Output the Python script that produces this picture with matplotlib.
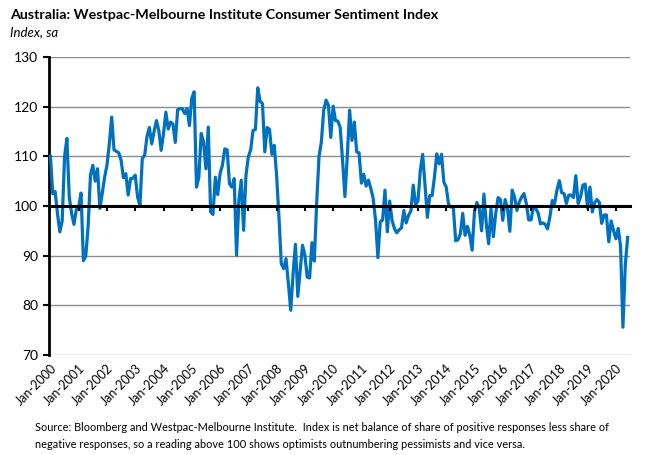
import matplotlib
matplotlib.use('Agg')
import matplotlib.pyplot as plt
import numpy as np

plt.rcParams['font.family'] = ['Lato', 'DejaVu Sans']

# monthly index readings, Jan..Dec of each year
idx_2000 = [110.0, 102.5, 102.9, 98.5, 94.8, 97.0, 109.9, 113.6, 101.8, 98.5, 96.3, 99.3]
idx_2001 = [99.8, 102.6, 89.0, 89.9, 95.8, 106.2, 108.2, 105.0, 107.5, 99.5, 102.5, 105.8]
idx_2002 = [108.2, 112.5, 117.9, 111.3, 111.0, 110.7, 109.2, 105.7, 106.5, 102.2, 105.5, 105.6]
idx_2003 = [106.2, 101.8, 100.1, 109.6, 110.2, 114.0, 115.8, 112.5, 115.0, 117.2, 115.2, 111.2]
idx_2004 = [114.5, 118.9, 115.5, 116.9, 116.5, 112.8, 119.4, 119.6, 119.6, 118.6, 119.6, 116.2]
idx_2005 = [121.7, 123.0, 103.8, 105.8, 114.6, 112.9, 107.5, 115.9, 98.8, 98.3, 105.8, 102.3]
idx_2006 = [106.5, 108.2, 111.5, 111.3, 104.5, 103.8, 105.5, 90.1, 101.1, 105.2, 95.1, 106.2]
idx_2007 = [109.9, 111.3, 115.2, 115.4, 123.8, 121.1, 120.6, 110.9, 115.8, 115.4, 110.4, 112.2]
idx_2008 = [106.2, 97.8, 88.4, 87.4, 89.4, 84.4, 79.0, 86.4, 92.3, 81.8, 87.0, 92.1]
idx_2009 = [90.1, 85.7, 85.5, 92.6, 88.9, 100.5, 109.9, 112.9, 119.3, 121.3, 120.3, 113.8]
idx_2010 = [120.1, 117.2, 117.1, 115.8, 109.2, 101.9, 110.0, 119.3, 113.2, 116.9, 110.9, 110.7]
idx_2011 = [104.6, 106.4, 104.0, 105.2, 103.5, 101.5, 97.1, 89.6, 96.8, 97.2, 103.2, 94.8]
idx_2012 = [101.0, 97.1, 95.5, 94.6, 95.2, 95.6, 99.1, 96.6, 98.1, 99.0, 104.2, 100.3]
idx_2013 = [101.0, 107.2, 110.4, 104.2, 97.7, 102.1, 102.1, 105.8, 110.5, 108.5, 110.4, 104.8]
idx_2014 = [103.8, 100.3, 99.8, 99.8, 93.0, 93.2, 94.4, 98.5, 94.1, 95.9, 94.1, 91.1]
idx_2015 = [99.0, 100.7, 99.5, 95.0, 102.4, 96.4, 92.4, 99.5, 93.8, 98.5, 101.7, 101.3]
idx_2016 = [97.1, 101.3, 99.5, 94.9, 103.2, 101.8, 99.1, 100.8, 101.8, 102.5, 100.5, 97.2]
idx_2017 = [97.2, 99.9, 99.5, 98.6, 96.4, 96.6, 96.3, 95.4, 97.8, 101.1, 100.5, 103.2]
idx_2018 = [105.1, 102.7, 102.5, 100.5, 102.2, 102.2, 101.7, 106.1, 100.5, 101.8, 104.2, 104.4]
idx_2019 = [99.6, 103.8, 98.8, 100.7, 101.3, 100.7, 96.5, 98.2, 98.2, 92.8, 97.0, 95.1]
idx_2020 = [93.4, 95.5, 91.9, 75.6, 88.1, 93.7]

years = list(range(2000, 2021))
tick_labels = ['Jan-%d' % y for y in years]

title = 'Australia: Westpac-Melbourne Institute Consumer Sentiment Index'
subtitle = 'Index, sa'
source = ('Source: Bloomberg and Westpac-Melbourne Institute.  Index is net balance of share of positive responses less share of\n'
          'negative responses, so a reading above 100 shows optimists outnumbering pessimists and vice versa.')

values = (idx_2000 + idx_2001 + idx_2002 + idx_2003 + idx_2004 + idx_2005 + idx_2006
          + idx_2007 + idx_2008 + idx_2009 + idx_2010 + idx_2011 + idx_2012 + idx_2013
          + idx_2014 + idx_2015 + idx_2016 + idx_2017 + idx_2018 + idx_2019 + idx_2020)
months = np.arange(len(values))
tick_pos = [12 * i for i in range(len(years))]

W, H = 650, 455
fig = plt.figure(figsize=(6.5, 4.55), dpi=100)
ax = fig.add_axes([49 / W, 1 - 355 / H, (630 - 49) / W, (355 - 57) / H])

ax.plot(months, values, color='#0070C0', lw=2.3, solid_joinstyle='round', zorder=3)

ax.set_ylim(70, 130)
ax.set_xlim(-0.6, 246)
ax.set_yticks(range(70, 131, 10))
ax.yaxis.grid(True, color='#8c8c8c', lw=1)
ax.set_axisbelow(True)
for s in ['top', 'right', 'bottom']:
    ax.spines[s].set_visible(False)
ax.spines['left'].set_linewidth(2)
ax.tick_params(axis='y', direction='out', length=4, width=1.5, labelsize=10, pad=4)

ax.set_xticks(tick_pos)
ax.set_xticklabels(tick_labels, rotation=45, ha='right', rotation_mode='anchor', fontsize=9)
ax.tick_params(axis='x', length=0, pad=5)

# the 100 line acts as the x axis
sec = ax.secondary_xaxis(0.5)
sec.set_alignment('bottom')
sec.set_xticks(tick_pos)
sec.tick_params(axis='x', direction='out', length=3.5, width=1.5, labelbottom=False, labeltop=False)
sec.spines['bottom'].set_linewidth(2.2)
sec.set_zorder(4)

fig.text(10 / W, 1 - 15 / H, title, fontsize=10.3, fontweight='bold', va='center')
fig.text(10 / W, 1 - 32 / H, subtitle, fontsize=9.5, style='italic', va='center')
fig.text(35 / W, 1 - 436 / H, source, fontsize=7.95, va='center', linespacing=1.6)

fig.savefig('out.png', dpi=100)
